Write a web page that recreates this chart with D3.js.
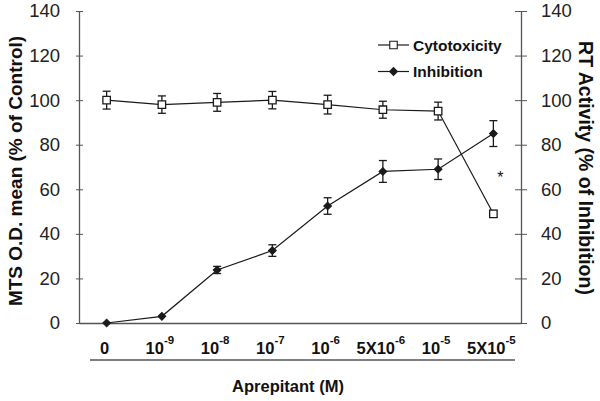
<!DOCTYPE html>
<html><head><meta charset="utf-8">
<script src="https://cdn.jsdelivr.net/npm/d3@7"></script>
<style>body{margin:0;background:#fff}svg{display:block}text{font-family:"Liberation Sans",Arial,Helvetica,sans-serif}</style>
</head><body>
<svg id="c" width="600" height="401"></svg>
<script>
const categories = ["0","10^-9","10^-8","10^-7","10^-6","5X10^-6","10^-5","5X10^-5"];
const cytotoxicity = [100, 98, 99, 100, 98, 95.7, 95.1, 49];
const cytotoxicityErr = [4, 3.9, 4, 3.9, 4.2, 3.8, 4, 1.5];
const inhibition = [0, 3, 23.8, 32.5, 52.5, 68, 69, 85];
const inhibitionErr = [0, 0, 1.6, 2.6, 3.7, 4.9, 4.6, 5.8];
const yTicks = [0,20,40,60,80,100,120,140];
const starPoint = {cat:"5X10^-5", value:66};

const svg = d3.select("#c");
const L=79, R=521, T=11, B=323;
const x = d3.scaleBand().domain(categories).range([L,R]);
const y = d3.scaleLinear().domain([0,140]).range([B,T]);
const ink="#1a1a1a", axisCol="#555";

// left axis
const ga = svg.append("g").attr("transform",`translate(${L},0)`)
  .call(d3.axisLeft(y).tickValues(yTicks).tickSize(4).tickSizeOuter(0).tickPadding(15));
ga.selectAll(".tick line").attr("x1",-3).attr("x2",4).attr("stroke",axisCol);
ga.select(".domain").attr("stroke",axisCol).attr("stroke-width",1.3);
ga.selectAll(".tick text").attr("font-size",18.5).attr("fill","#222").attr("font-family","Liberation Sans, Arial, sans-serif");

const gr = svg.append("g").attr("transform",`translate(${R},0)`)
  .call(d3.axisRight(y).tickValues(yTicks).tickSize(6).tickSizeOuter(0).tickPadding(14));
gr.selectAll(".tick line").attr("x1",-6).attr("x2",6).attr("stroke",axisCol);
gr.select(".domain").attr("stroke",axisCol).attr("stroke-width",1.3);
gr.selectAll(".tick text").attr("font-size",18.5).attr("fill","#222").attr("font-family","Liberation Sans, Arial, sans-serif");

// x axis line (no ticks)
const gx = svg.append("g").attr("transform",`translate(0,${B})`)
  .call(d3.axisBottom(x).tickSize(0).tickFormat(""));
gx.select(".domain").attr("stroke",axisCol).attr("stroke-width",1.3);

// x tick labels with superscripts
categories.forEach(c=>{
  const t = svg.append("text").attr("x",x(c)+x.bandwidth()/2-2).attr("y",354)
    .attr("text-anchor","middle").attr("font-size",16.5).attr("font-weight","bold").attr("fill","#111");
  const parts = c.split("^");
  t.append("tspan").text(parts[0]);
  if(parts[1]) t.append("tspan").attr("dy",-10).attr("font-size",11.5).text(parts[1]);
});
// separator line under labels
svg.append("line").attr("x1",90).attr("x2",515).attr("y1",360).attr("y2",360).attr("stroke",axisCol).attr("stroke-width",1.3);

// titles
svg.append("text").attr("x",288).attr("y",392).attr("text-anchor","middle").attr("font-size",16.5).attr("font-weight","bold").attr("fill","#111").text("Aprepitant (M)");
svg.append("text").attr("transform","translate(22,171) rotate(-90)").attr("text-anchor","middle").attr("font-size",19).attr("font-weight","bold").attr("fill","#111").text("MTS O.D. mean (% of Control)");
svg.append("text").attr("transform","translate(579,168) rotate(90)").attr("text-anchor","middle").attr("font-size",19.5).attr("font-weight","bold").attr("fill","#111").text("RT Activity (% of Inhibition)");

const cx = c => x(c)+x.bandwidth()/2;
const line = d3.line().x((d,i)=>cx(categories[i])).y(d=>y(d));

function errBars(vals, errs){
  const g = svg.append("g").attr("stroke",ink).attr("stroke-width",1.3);
  vals.forEach((v,i)=>{
    if(!errs[i]) return;
    const px=cx(categories[i]);
    g.append("line").attr("x1",px).attr("x2",px).attr("y1",y(v+errs[i])).attr("y2",y(v-errs[i]));
    [v+errs[i], v-errs[i]].forEach(e=>g.append("line").attr("x1",px-4).attr("x2",px+4).attr("y1",y(e)).attr("y2",y(e)));
  });
}
errBars(cytotoxicity, cytotoxicityErr);
errBars(inhibition, inhibitionErr);

svg.append("path").datum(cytotoxicity).attr("d",line).attr("fill","none").attr("stroke",ink).attr("stroke-width",1.2);
svg.append("path").datum(inhibition).attr("d",line).attr("fill","none").attr("stroke",ink).attr("stroke-width",1.2);

const sq = d3.symbol().type(d3.symbolSquare).size(56);
const dia = d3.symbol().type(d3.symbolSquare).size(30);
svg.append("g").selectAll("path").data(cytotoxicity).join("path")
  .attr("transform",(d,i)=>`translate(${cx(categories[i])},${y(d)})`).attr("d",sq)
  .attr("fill","#fff").attr("stroke",ink).attr("stroke-width",1.3);
svg.append("g").selectAll("path").data(inhibition).join("path")
  .attr("transform",(d,i)=>`translate(${cx(categories[i])},${y(d)}) rotate(45)`).attr("d",dia)
  .attr("fill",ink).attr("stroke",ink).attr("stroke-width",1);

// asterisk
svg.append("text").attr("x",cx(starPoint.cat)+7).attr("y",y(starPoint.value)+7).attr("text-anchor","middle").attr("font-size",16).attr("fill","#111").text("*");

// legend
const legend = [{name:"Cytotoxicity", sym:sq, fill:"#fff", rot:0},{name:"Inhibition", sym:dia, fill:ink, rot:45}];
legend.forEach((d,i)=>{
  const ly = 45 + i*26.5;
  const g = svg.append("g");
  g.append("line").attr("x1",378).attr("x2",409).attr("y1",ly).attr("y2",ly).attr("stroke",ink).attr("stroke-width",1.2);
  g.append("path").attr("transform",`translate(393.5,${ly}) rotate(${d.rot})`).attr("d",d.sym).attr("fill",d.fill).attr("stroke",ink).attr("stroke-width",1.1);
  g.append("text").attr("x",413).attr("y",ly+5.5).attr("font-size",15.5).attr("font-weight","bold").attr("fill","#111").text(d.name);
});
</script>
</body></html>
